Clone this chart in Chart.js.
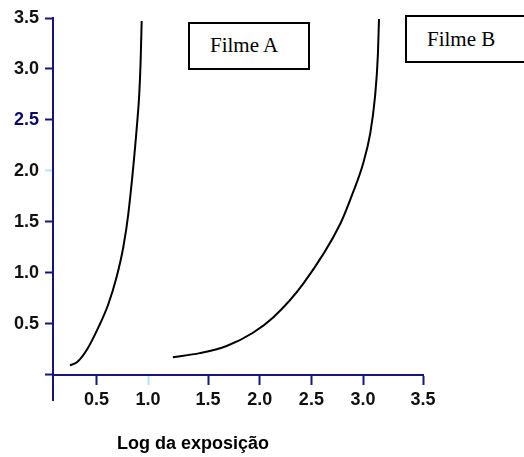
<!DOCTYPE html>
<html>
<head>
<meta charset="utf-8">
<script src="https://cdn.jsdelivr.net/npm/chart.js@4"></script>
<style>
  html, body { margin: 0; padding: 0; background: #fff; overflow: hidden; }
  #wrap { position: relative; width: 524px; height: 457px; overflow: hidden; }
  .box { position: absolute; border: 2px solid #000; box-sizing: border-box; background: #fff;
         font-family: "Liberation Serif", "Times New Roman", serif; font-size: 21px; line-height: 21px;
         color: #000; white-space: nowrap; }
  #axisTitle { position: absolute; font-family: "Liberation Sans", Arial, sans-serif; font-weight: bold;
               font-size: 18px; line-height: 18px; color: #000; white-space: nowrap; }
</style>
</head>
<body>
<div id="wrap">
  <canvas id="curveChart" width="524" height="457"></canvas>
  <div class="box" id="boxA" style="left:188px; top:22px; width:122px; height:48px; padding:11px 0 0 20px;">Filme A</div>
  <div class="box" id="boxB" style="left:405px; top:15px; width:130px; height:48px; padding:12px 0 0 20px;">Filme B</div>
  <div id="axisTitle" style="left:117px; top:434px;">Log da exposição</div>
</div>
<script>
// Filme A curve (log exposure, density)
const filmAx = [0.164, 0.232, 0.326, 0.438, 0.535, 0.616, 0.680, 0.729, 0.816, 0.835, 0.848, 0.858];
const filmAy = [0.09, 0.12, 0.24, 0.46, 0.69, 0.96, 1.25, 1.58, 2.49, 2.76, 3.08, 3.47];

// Filme B curve
const filmBx = [1.16, 1.42, 1.68, 1.935, 2.13, 2.42, 2.78, 2.90, 3.00, 3.07, 3.115, 3.144, 3.154];
const filmBy = [0.17, 0.21, 0.28, 0.41, 0.56, 0.89, 1.48, 1.78, 2.07, 2.37, 2.72, 3.15, 3.49];

// tick marks as drawn on the original axes
const xTickValues = [0.42, 0.92, 1.5, 2.0, 2.5, 3.0, 3.58];
const xTickLabels = ['0.5', '1.0', '1.5', '2.0', '2.5', '3.0', '3.5'];
const yTickValues = [0.5, 1.0, 1.5, 2.0, 2.5, 3.0, 3.5];
const yTickLabels = ['0.5', '1.0', '1.5', '2.0', '2.5', '3.0', '3.5'];

const axisColor = '#16167a';
const paleTick = '#b8e2f8';
const tickFont = { family: '"Liberation Sans", Arial, sans-serif', size: 18, weight: 'bold' };

const toPoints = (xs, ys) => xs.map((x, i) => ({ x: x, y: ys[i] }));

// small stub of the x axis sticking out left of the y axis
const axisStub = {
    id: 'axisStub',
    afterDraw(chart) {
        const c = chart.ctx;
        const y0 = chart.scales.y.getPixelForValue(0);
        const left = chart.chartArea.left;
        c.save();
        c.strokeStyle = axisColor;
        c.lineWidth = 2;
        c.beginPath();
        c.moveTo(left - 8, y0);
        c.lineTo(left, y0);
        c.stroke();
        c.restore();
    }
};

const ctx = document.getElementById('curveChart').getContext('2d');
new Chart(ctx, {
    type: 'line',
    data: {
        datasets: [
            {
                label: 'Filme A',
                data: toPoints(filmAx, filmAy),
                borderColor: '#000',
                borderWidth: 2,
                pointRadius: 0,
                cubicInterpolationMode: 'monotone',
                fill: false
            },
            {
                label: 'Filme B',
                data: toPoints(filmBx, filmBy),
                borderColor: '#000',
                borderWidth: 2,
                pointRadius: 0,
                cubicInterpolationMode: 'monotone',
                fill: false
            }
        ]
    },
    options: {
        responsive: false,
        animation: false,
        layout: { padding: { left: 0, top: 18, right: 101, bottom: 57 } },
        plugins: {
            legend: { display: false },
            title: { display: false },
            tooltip: { enabled: false }
        },
        scales: {
            x: {
                type: 'linear',
                position: { y: 0 },
                min: 0,
                max: 3.58,
                afterBuildTicks: scale => { scale.ticks = xTickValues.map(v => ({ value: v })); },
                ticks: {
                    callback: (v, i) => xTickLabels[i],
                    color: '#111',
                    font: tickFont,
                    padding: 6,
                    maxRotation: 0,
                    autoSkip: false
                },
                grid: {
                    drawOnChartArea: false,
                    tickLength: 9,
                    tickWidth: 2,
                    tickColor: c => (c.index === 1 ? paleTick : axisColor)
                },
                border: { display: true, color: axisColor, width: 2 }
            },
            y: {
                type: 'linear',
                position: 'left',
                min: -0.25,
                max: 3.5,
                afterFit: scale => { scale.width = 53; },
                afterBuildTicks: scale => { scale.ticks = yTickValues.map(v => ({ value: v })); },
                ticks: {
                    callback: (v, i) => yTickLabels[i],
                    color: c => (c.index === 4 ? '#0a0a6a' : '#111'),
                    font: tickFont,
                    padding: 6,
                    autoSkip: false
                },
                grid: {
                    drawOnChartArea: false,
                    tickLength: 8,
                    tickWidth: 2,
                    tickColor: c => (c.index === 3 ? paleTick : axisColor)
                },
                border: { display: true, color: axisColor, width: 2 }
            }
        }
    },
    plugins: [axisStub]
});
</script>
</body>
</html>
